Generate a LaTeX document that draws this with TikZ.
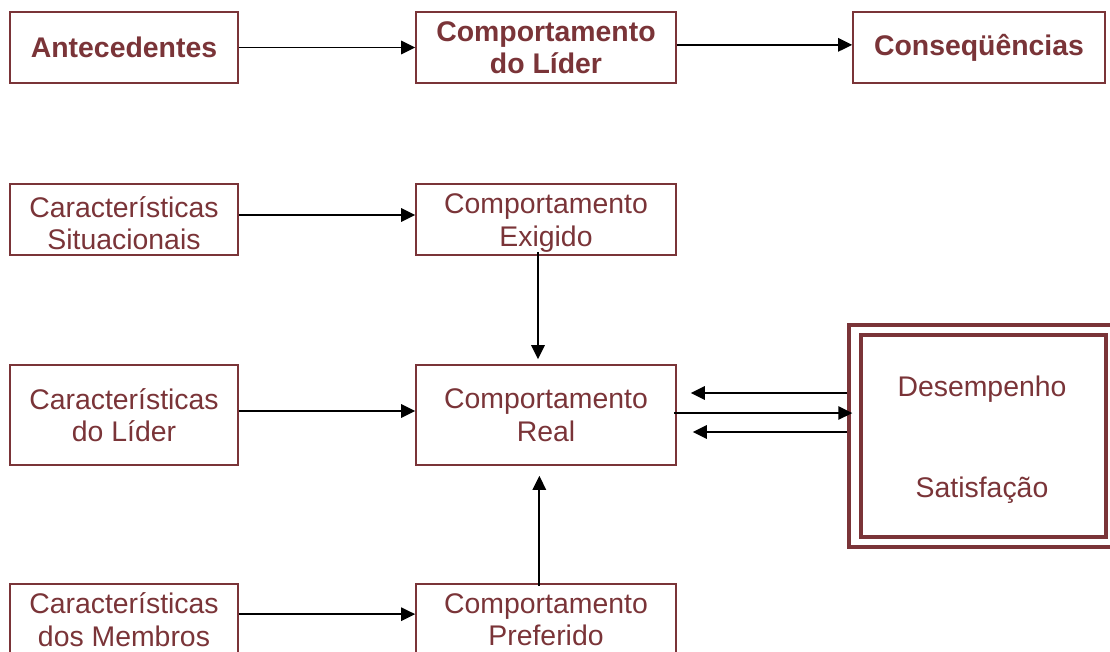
\documentclass[tikz,border=0pt]{standalone}
\usepackage{fontspec}
\setmainfont{Liberation Sans}
\usetikzlibrary{arrows.meta,calc}
\definecolor{maroon}{RGB}{122,52,56}
\begin{document}
\begin{tikzpicture}[x=0.75pt,y=-0.75pt,
  box/.style={draw=maroon,line width=1.2pt,rectangle,inner sep=0pt,align=center,text=maroon,
    font=\fontsize{21.3}{24.4}\selectfont},
  bbox/.style={box,font=\fontsize{21.3}{24.4}\selectfont\bfseries},
  lbl/.style={inner sep=0pt,text=maroon,align=center,font=\fontsize{21.3}{24.4}\selectfont},
  arr/.style={line width=1.4pt,draw=black,-{Triangle[length=10.5pt,width=10pt]}},
  dbl/.style={draw=maroon,line width=3pt,rectangle,inner sep=0pt}]
\useasboundingbox (0,0) rectangle (1110,651);
% row 1
\node[bbox,minimum width=171pt,minimum height=53.25pt] (ant) at (124,47.5) {Antecedentes};
\node[bbox,minimum width=195pt,minimum height=53.25pt] (cl) at (546,47.5) {Comportamento\\do Líder};
\node[bbox,minimum width=189pt,minimum height=53.25pt] (cons) at (979,47.5) {Conseqüências};
% row 2
\node[box,minimum width=171pt,minimum height=53.25pt] (cs) at (124,219.5) {};
\node[lbl] (cst) at (124,223) {Características\\Situacionais};
\node[box,minimum width=195pt,minimum height=53.25pt] (ce) at (546,219.5) {};
\node[lbl] (cet) at (546,223) {Comportamento\\Exigido};
% row 3
\node[box,minimum width=171pt,minimum height=75pt] (cdl) at (124,415) {Características\\do Líder};
\node[box,minimum width=195pt,minimum height=75pt] (real) at (546,415) {Comportamento\\Real};
% row 4
\node[box,minimum width=171pt,minimum height=53.25pt] (cm) at (124,619.5) {Características\\dos Membros};
\node[box,minimum width=195pt,minimum height=53.25pt] (cp) at (546,619.5) {Comportamento\\Preferido};
% right double box
\node[dbl,minimum width=207pt,minimum height=166.5pt] (outer) at (987,436) {};
\node[dbl,minimum width=183.75pt,minimum height=151.5pt] (inner) at (983,436) {};
\node[lbl] (des) at (982,389) {Desempenho};
\node[lbl] (sat) at (982,490) {Satisfação};
% arrows
\draw[arr] (ant.east) -- (cl.west);
\draw[arr] ([yshift=2pt]cl.east) -- ([yshift=2pt]cons.west);
\draw[arr] ([yshift=3.4pt]cs.east) -- ([yshift=3.4pt]ce.west);
\draw[arr] ([yshift=3pt]cdl.east) -- ([yshift=3pt]real.west);
\draw[arr] ([yshift=4pt]cm.east) -- ([yshift=4pt]cp.west);
\draw[arr] ([xshift=-6pt,yshift=3pt]ce.south) -- ([xshift=-6pt,yshift=3.75pt]real.north);
\draw[arr] ([xshift=-5pt,yshift=-2pt]cp.north) -- ([xshift=-5pt,yshift=-7.5pt]real.south);
\coordinate (a1) at ($(real.east)+(14,-22)$);
\coordinate (a2) at ($(real.east)+(-3,-2)$);
\coordinate (a3) at ($(real.east)+(16,17)$);
\draw[arr] (outer.west |- a1) -- (a1);
\draw[arr] (a2) -- ([xshift=4pt]outer.west |- a2);
\draw[arr] (outer.west |- a3) -- (a3);
\end{tikzpicture}
\end{document}
